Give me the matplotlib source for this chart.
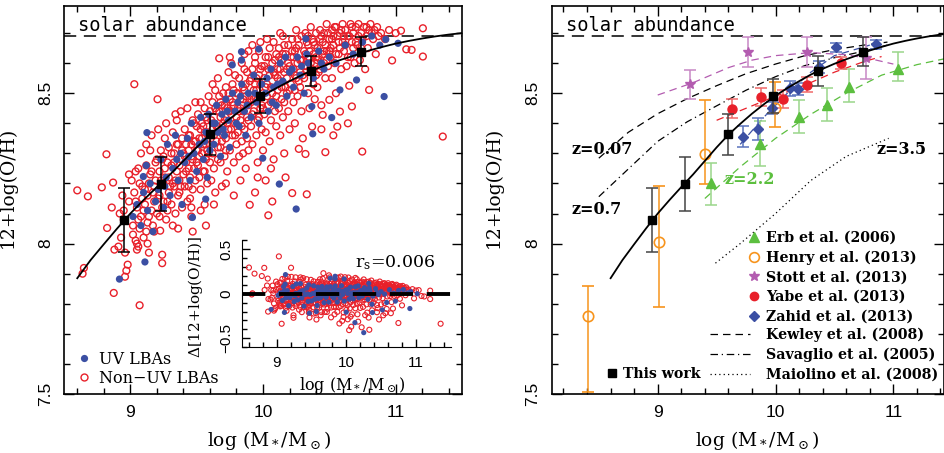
import numpy as np
import matplotlib.pyplot as plt
from matplotlib.ticker import MultipleLocator, FuncFormatter
from matplotlib.lines import Line2D

plt.rcParams['mathtext.fontset'] = 'dejavuserif'
plt.rcParams['font.family'] = 'DejaVu Serif'

RED = '#e8202a'
BLUE = '#3b4fa3'
GREEN = '#5cbf3f'
GREEN_L = '#9ad68a'
ORANGE = '#f7941d'
PURPLE = '#b35cb0'
PURPLE_L = '#c887c5'
RED_L = '#f06a6a'
BLUE_L = '#5a73bd'
SOLAR = 8.69

# ---- left panel: individual galaxies (Non-UV LBAs, red open circles)
red_pts = [
    (8.60, 8.177), (8.68, 8.157), (8.65, 7.919), (8.64, 7.90), (8.785, 8.187), (8.82, 8.297),
    (8.825, 8.052), (8.87, 8.203), (8.875, 7.836), (8.88, 7.98), (8.86, 8.12),
    (8.92, 8.10), (8.95, 8.11), (8.95, 8.08), (8.93, 8.02), (8.96, 7.97), (8.98, 7.93),
    (8.97, 7.91), (8.96, 7.89), (8.99, 8.23), (8.99, 8.14), (8.94, 8.16), (8.91, 7.99),
    (9.03, 8.53), (9.02, 8.06), (9.04, 8.01), (9.05, 8.00), (9.06, 7.99), (9.07, 7.795),
    (9.01, 8.21), (9.03, 8.17), (9.05, 8.12), (9.06, 8.25), (9.08, 8.09), (9.09, 8.19),
    (9.04, 8.24), (9.02, 8.03), (9.07, 8.05), (9.09, 8.15), (9.05, 7.98), (9.08, 8.30), (9.10, 8.02),
    (9.11, 8.13), (9.12, 8.26), (9.13, 8.07), (9.14, 8.20), (9.15, 8.31), (9.16, 8.11),
    (9.17, 8.17), (9.18, 8.04), (9.12, 8.33), (9.14, 8.09), (9.15, 8.23), (9.16, 8.36),
    (9.18, 8.14), (9.19, 8.27), (9.11, 8.18), (9.13, 8.00), (9.17, 8.06), (9.19, 8.21),
    (9.20, 8.10), (9.14, 7.97),
    (9.205, 8.48), (9.24, 7.963), (9.24, 7.935), (9.225, 8.043), (9.21, 8.15), (9.22, 8.24),
    (9.23, 8.31), (9.24, 8.12), (9.25, 8.20), (9.26, 8.35), (9.27, 8.08), (9.28, 8.27),
    (9.29, 8.17), (9.21, 8.38), (9.22, 8.09), (9.24, 8.28), (9.25, 8.14), (9.26, 8.22),
    (9.27, 8.40), (9.28, 8.11), (9.29, 8.32), (9.30, 8.19), (9.23, 8.21),
    (9.31, 8.26), (9.31, 8.13), (9.32, 8.37), (9.33, 8.19), (9.33, 8.30), (9.34, 8.10),
    (9.35, 8.24), (9.35, 8.41), (9.36, 8.16), (9.36, 8.33), (9.37, 8.21), (9.38, 8.28),
    (9.38, 8.44), (9.39, 8.12), (9.39, 8.35), (9.40, 8.23), (9.32, 8.06), (9.34, 8.43),
    (9.37, 8.17), (9.40, 8.30), (9.36, 8.05), (9.33, 8.27),
    (9.41, 8.19), (9.41, 8.38), (9.42, 8.27), (9.43, 8.14), (9.43, 8.45), (9.44, 8.31),
    (9.45, 8.22), (9.45, 8.36), (9.46, 8.09), (9.46, 8.29), (9.47, 8.41), (9.47, 8.18),
    (9.48, 8.25), (9.48, 8.34), (9.49, 8.47), (9.49, 8.21), (9.50, 8.31), (9.42, 8.33),
    (9.44, 8.25), (9.46, 8.12), (9.50, 8.39), (9.47, 8.04), (9.45, 8.15),
    (9.51, 8.26), (9.51, 8.43), (9.52, 8.35), (9.53, 8.18), (9.53, 8.47), (9.54, 8.30),
    (9.55, 8.39), (9.55, 8.24), (9.56, 8.45), (9.56, 8.13), (9.57, 8.33), (9.57, 8.28),
    (9.58, 8.41), (9.58, 8.20), (9.59, 8.36), (9.59, 8.49), (9.60, 8.27), (9.52, 8.22),
    (9.54, 8.40), (9.56, 8.37), (9.58, 8.31), (9.60, 8.44), (9.53, 8.11), (9.57, 8.06),
    (9.61, 8.36), (9.61, 8.21), (9.62, 8.47), (9.62, 8.30), (9.63, 8.40), (9.63, 8.25),
    (9.64, 8.51), (9.65, 8.34), (9.65, 8.44), (9.66, 8.28), (9.66, 8.38), (9.67, 8.616),
    (9.67, 8.49), (9.68, 8.32), (9.68, 8.42), (9.69, 8.19), (9.69, 8.46), (9.70, 8.36),
    (9.62, 8.53), (9.64, 8.17), (9.66, 8.55), (9.68, 8.27), (9.70, 8.50), (9.63, 8.13),
    (9.71, 8.41), (9.71, 8.29), (9.72, 8.52), (9.72, 8.35), (9.73, 8.45), (9.73, 8.24),
    (9.74, 8.57), (9.74, 8.38), (9.75, 8.48), (9.75, 8.31), (9.76, 8.43), (9.76, 8.60),
    (9.77, 8.36), (9.77, 8.53), (9.78, 8.27), (9.78, 8.46), (9.79, 8.40), (9.79, 8.56),
    (9.80, 8.33), (9.80, 8.50), (9.72, 8.20), (9.75, 8.62), (9.78, 8.16), (9.74, 8.44),
    (9.81, 8.45), (9.81, 8.37), (9.82, 8.55), (9.82, 8.29), (9.83, 8.48), (9.83, 8.41),
    (9.84, 8.60), (9.84, 8.34), (9.85, 8.52), (9.85, 8.44), (9.86, 8.63), (9.86, 8.38),
    (9.87, 8.49), (9.87, 8.25), (9.88, 8.57), (9.88, 8.42), (9.89, 8.46), (9.89, 8.31),
    (9.90, 8.54), (9.90, 8.129), (9.83, 8.21), (9.86, 8.58), (9.89, 8.64), (9.85, 8.30),
    (9.91, 8.47), (9.91, 8.39), (9.92, 8.58), (9.92, 8.33), (9.93, 8.51), (9.93, 8.44),
    (9.94, 8.17), (9.94, 8.60), (9.94, 8.62), (9.95, 8.36), (9.95, 8.55), (9.96, 8.48),
    (9.96, 8.27), (9.97, 8.64), (9.97, 8.42), (9.98, 8.53), (9.98, 8.45), (9.99, 8.59),
    (9.99, 8.38), (10.00, 8.50), (10.00, 8.31), (9.92, 8.66), (9.96, 8.22), (9.98, 8.67),
    (10.01, 8.55), (10.01, 8.43), (10.02, 8.62), (10.02, 8.37), (10.03, 8.49), (10.04, 8.094),
    (10.04, 8.58), (10.04, 8.46), (10.05, 8.65), (10.05, 8.34), (10.06, 8.52), (10.06, 8.41),
    (10.07, 8.14), (10.07, 8.60), (10.08, 8.47), (10.08, 8.28), (10.09, 8.56), (10.09, 8.44),
    (10.10, 8.63), (10.10, 8.39), (10.03, 8.68), (10.06, 8.25), (10.08, 8.67), (10.02, 8.21),
    (10.11, 8.51), (10.11, 8.58), (10.12, 8.45), (10.12, 8.65), (10.13, 8.36), (10.13, 8.54),
    (10.14, 8.61), (10.14, 8.48), (10.15, 8.69), (10.15, 8.42), (10.16, 8.57), (10.16, 8.30),
    (10.17, 8.22), (10.17, 8.63), (10.18, 8.50), (10.18, 8.55), (10.19, 8.66), (10.19, 8.44),
    (10.20, 8.59), (10.20, 8.38), (10.13, 8.70), (10.16, 8.47),
    (10.21, 8.62), (10.21, 8.53), (10.22, 8.168), (10.22, 8.68), (10.23, 8.47), (10.23, 8.58),
    (10.24, 8.64), (10.24, 8.40), (10.25, 8.55), (10.25, 8.71), (10.26, 8.60), (10.26, 8.49),
    (10.27, 8.315), (10.27, 8.66), (10.28, 8.52), (10.28, 8.57), (10.29, 8.69), (10.29, 8.44),
    (10.30, 8.61), (10.30, 8.35), (10.24, 8.51),
    (10.31, 8.64), (10.31, 8.55), (10.32, 8.298), (10.32, 8.70), (10.33, 8.164), (10.33, 8.59),
    (10.34, 8.50), (10.34, 8.66), (10.35, 8.62), (10.35, 8.45), (10.36, 8.72), (10.36, 8.57),
    (10.37, 8.389), (10.37, 8.68), (10.38, 8.53), (10.38, 8.63), (10.39, 8.60), (10.39, 8.48),
    (10.40, 8.70), (10.40, 8.56),
    (10.41, 8.65), (10.41, 8.52), (10.42, 8.62), (10.43, 8.71), (10.43, 8.58), (10.44, 8.46),
    (10.45, 8.428), (10.45, 8.67), (10.46, 8.60), (10.46, 8.70), (10.47, 8.304), (10.47, 8.55),
    (10.48, 8.64), (10.48, 8.73), (10.49, 8.59), (10.50, 8.68), (10.50, 8.478), (10.44, 8.38),
    (10.51, 8.62), (10.52, 8.71), (10.52, 8.55), (10.53, 8.66), (10.54, 8.60), (10.54, 8.72),
    (10.55, 8.50), (10.56, 8.69), (10.56, 8.389), (10.57, 8.63), (10.58, 8.439), (10.58, 8.70),
    (10.59, 8.58), (10.60, 8.67), (10.60, 8.73), (10.53, 8.36),
    (10.61, 8.64), (10.62, 8.71), (10.63, 8.59), (10.64, 8.69), (10.65, 8.525), (10.66, 8.73),
    (10.66, 8.62), (10.67, 8.456), (10.67, 8.67), (10.68, 8.70), (10.69, 8.60), (10.70, 8.72),
    (10.64, 8.40),
    (10.71, 8.66), (10.72, 8.73), (10.73, 8.61), (10.74, 8.70), (10.748, 8.306), (10.75, 8.68),
    (10.76, 8.72), (10.77, 8.58), (10.78, 8.69), (10.79, 8.65), (10.80, 8.511), (10.80, 8.71),
    (10.81, 8.73), (10.83, 8.68), (10.84, 8.71), (10.85, 8.63), (10.86, 8.72), (10.87, 8.69),
    (10.89, 8.70),
    (10.92, 8.68), (10.95, 8.71), (10.973, 8.609), (11.00, 8.70), (11.04, 8.708), (11.08, 8.646),
    (11.12, 8.644), (11.205, 8.716), (11.205, 8.622), (11.355, 8.356),
]

# the dense core of the Non-UV cloud
red_core = [
    (9.04, 8.14), (9.07, 8.20), (9.10, 8.11), (9.13, 8.16), (9.16, 8.24), (9.18, 8.19),
    (9.20, 8.28), (9.12, 8.04), (9.06, 8.08),
    (9.22, 8.16), (9.26, 8.25), (9.29, 8.22), (9.31, 8.30), (9.34, 8.21), (9.37, 8.26),
    (9.39, 8.31), (9.42, 8.24), (9.44, 8.36), (9.47, 8.28), (9.49, 8.34), (9.51, 8.31),
    (9.53, 8.38), (9.55, 8.33), (9.57, 8.42), (9.59, 8.30), (9.61, 8.41), (9.63, 8.36),
    (9.65, 8.39), (9.67, 8.44), (9.69, 8.34), (9.71, 8.46), (9.73, 8.40), (9.75, 8.44),
    (9.77, 8.47), (9.79, 8.36), (9.81, 8.50), (9.83, 8.45), (9.85, 8.48), (9.87, 8.53),
    (9.89, 8.41), (9.91, 8.55), (9.93, 8.48), (9.95, 8.51), (9.97, 8.56), (9.99, 8.46),
    (10.01, 8.59), (10.03, 8.53), (10.05, 8.56), (10.07, 8.50), (10.09, 8.61), (10.11, 8.55),
    (10.13, 8.58), (10.15, 8.63), (10.17, 8.52), (10.19, 8.60), (10.21, 8.57), (10.23, 8.62),
    (10.25, 8.65), (10.27, 8.54), (10.29, 8.61), (10.31, 8.59), (10.33, 8.67), (10.35, 8.64),
    (10.37, 8.57), (10.39, 8.66), (10.41, 8.61), (10.43, 8.68), (10.45, 8.63), (10.47, 8.66),
    (10.49, 8.70), (10.51, 8.65), (10.53, 8.69), (10.55, 8.63), (10.57, 8.67), (10.59, 8.71),
    (10.62, 8.66), (10.65, 8.69), (10.68, 8.65), (10.72, 8.69),
    (9.25, 8.29), (9.28, 8.14), (9.32, 8.20), (9.35, 8.33), (9.38, 8.19), (9.41, 8.29),
    (9.44, 8.19), (9.46, 8.33), (9.48, 8.40), (9.50, 8.27), (9.52, 8.29), (9.54, 8.35),
    (9.56, 8.24), (9.58, 8.37), (9.60, 8.33), (9.62, 8.38), (9.64, 8.45), (9.66, 8.32),
    (9.68, 8.47), (9.70, 8.40), (9.72, 8.31), (9.74, 8.50), (9.76, 8.38), (9.78, 8.51),
    (9.80, 8.42), (9.82, 8.44), (9.84, 8.39), (9.86, 8.51), (9.88, 8.35), (9.90, 8.48),
    (9.92, 8.43), (9.94, 8.53), (9.96, 8.41), (9.98, 8.58), (10.00, 8.45), (10.02, 8.52),
    (10.04, 8.62), (10.06, 8.47), (10.08, 8.57), (10.10, 8.49), (10.12, 8.62), (10.14, 8.52),
    (10.16, 8.66), (10.18, 8.58), (10.20, 8.51), (10.22, 8.64), (10.24, 8.56), (10.26, 8.68),
    (10.28, 8.61), (10.30, 8.56), (10.32, 8.63), (10.34, 8.69), (10.36, 8.60), (10.38, 8.67),
    (10.40, 8.62), (10.42, 8.57), (10.44, 8.69), (10.46, 8.64), (10.48, 8.61), (10.50, 8.64),
    (10.52, 8.68), (10.55, 8.72), (10.58, 8.65), (10.61, 8.69), (10.64, 8.62), (10.67, 8.72),
    (10.70, 8.67), (10.74, 8.65), (10.78, 8.72), (10.82, 8.70),
]

# UV LBAs, blue filled circles
blue_pts = [
    (8.918, 7.882), (9.11, 7.939), (9.125, 8.369), (9.098, 8.223), (9.468, 8.087), (9.568, 8.148),
    (9.998, 8.284), (10.123, 8.198), (10.25, 8.115), (10.375, 8.365), (10.368, 8.456),
    (10.518, 8.419), (10.58, 8.511), (10.705, 8.544), (10.913, 8.489), (10.925, 8.679),
    (11.018, 8.666), (10.323, 8.681), (9.968, 8.647), (9.838, 8.638), (9.838, 8.61), (9.768, 8.594),
    (9.02, 8.09), (9.05, 8.13), (9.08, 8.06), (9.10, 8.17), (9.13, 8.11), (9.15, 8.20),
    (9.17, 8.04), (9.19, 8.14), (9.12, 8.26),
    (9.21, 8.18), (9.23, 8.28), (9.25, 8.12), (9.27, 8.22), (9.28, 8.33), (9.30, 8.16),
    (9.32, 8.25), (9.34, 8.36), (9.36, 8.21), (9.38, 8.30), (9.39, 8.13),
    (9.41, 8.27), (9.43, 8.35), (9.45, 8.21), (9.46, 8.40), (9.48, 8.30), (9.50, 8.24),
    (9.52, 8.33), (9.53, 8.42), (9.55, 8.28), (9.57, 8.37), (9.58, 8.22), (9.60, 8.31),
    (9.62, 8.40), (9.63, 8.33), (9.65, 8.46), (9.66, 8.37), (9.68, 8.29), (9.69, 8.43),
    (9.71, 8.36), (9.72, 8.48), (9.74, 8.41), (9.75, 8.32), (9.77, 8.50), (9.79, 8.44),
    (9.81, 8.47), (9.82, 8.39), (9.84, 8.53), (9.86, 8.44), (9.87, 8.36), (9.89, 8.50),
    (9.91, 8.42), (9.93, 8.56), (9.95, 8.47), (9.97, 8.40), (9.99, 8.53),
    (10.02, 8.50), (10.04, 8.44), (10.06, 8.58), (10.08, 8.52), (10.10, 8.46), (10.13, 8.60),
    (10.15, 8.54), (10.18, 8.49), (10.20, 8.57),
    (10.23, 8.52), (10.26, 8.62), (10.28, 8.56), (10.31, 8.50), (10.34, 8.60), (10.38, 8.55),
    (10.42, 8.64), (10.46, 8.58), (10.50, 8.62),
    (10.55, 8.60), (10.62, 8.66), (10.68, 8.63), (10.75, 8.67), (10.82, 8.69), (10.88, 8.66),
    (9.44, 8.29), (9.56, 8.34), (9.64, 8.40), (9.73, 8.44), (9.80, 8.40), (9.88, 8.46),
    (9.94, 8.50), (10.03, 8.55), (10.11, 8.53), (10.22, 8.58), (10.33, 8.63), (10.44, 8.60),
    (9.35, 8.28), (9.26, 8.19), (9.59, 8.43), (9.70, 8.38), (9.83, 8.49), (10.07, 8.47),
    (10.17, 8.62), (10.29, 8.59),
]

# median bins (This work)
bin_x = [8.95, 9.23, 9.598, 9.977, 10.36, 10.74]
bin_y = [8.079, 8.198, 8.364, 8.491, 8.574, 8.638]
bin_err = [0.106, 0.09, 0.068, 0.057, 0.05, 0.049]

# best-fit mass-metallicity curve
fit_x = [8.6, 8.7, 8.8, 8.9, 9.0, 9.1, 9.2, 9.3, 9.4, 9.5, 9.6, 9.7, 9.8, 9.9, 10.0,
         10.1, 10.2, 10.3, 10.4, 10.5, 10.6, 10.7, 10.8, 10.9, 11.0, 11.1, 11.2, 11.3, 11.4, 11.5]
fit_y = [7.885, 7.945, 7.998, 8.05, 8.10, 8.145, 8.188, 8.23, 8.275, 8.32, 8.362, 8.398,
         8.432, 8.463, 8.492, 8.517, 8.54, 8.562, 8.581, 8.598, 8.613, 8.627, 8.642, 8.654,
         8.665, 8.674, 8.682, 8.689, 8.695, 8.70]

# ---- right panel: literature
erb_x = [9.454, 9.87, 10.198, 10.439, 10.623, 11.042]
erb_y = [8.201, 8.332, 8.42, 8.461, 8.522, 8.58]
erb_lo = [0.072, 0.073, 0.051, 0.052, 0.05, 0.041]
erb_hi = [0.066, 0.074, 0.058, 0.056, 0.058, 0.058]

henry_x = [8.405, 9.01, 9.405, 9.994]
henry_y = [7.758, 8.005, 8.298, 8.45]
henry_lo = [0.25, 0.215, 0.10, 0.061]
henry_hi = [0.10, 0.185, 0.18, 0.087]

stott_x = [9.272, 9.768, 10.269, 10.765]
stott_y = [8.531, 8.638, 8.638, 8.616]
stott_lo = [0.051, 0.05, 0.05, 0.07]
stott_hi = [0.046, 0.048, 0.05, 0.072]

yabe_x = [9.632, 9.878, 10.065, 10.27, 10.552]
yabe_y = [8.448, 8.488, 8.48, 8.528, 8.60]
yabe_err = [0.032, 0.03, 0.03, 0.025, 0.02]

zahid_x = [9.725, 9.85, 9.972, 10.12, 10.19, 10.368, 10.516, 10.85]
zahid_y = [8.356, 8.381, 8.45, 8.517, 8.513, 8.588, 8.653, 8.663]
zahid_err = [0.036, 0.035, 0.02, 0.025, 0.02, 0.02, 0.015, 0.015]

# relations
kewley_x = [8.5, 8.75, 9.0, 9.25, 9.5, 9.75, 10.0, 10.25, 10.5, 10.75, 10.95]
kewley_y = [8.284, 8.37, 8.432, 8.482, 8.525, 8.565, 8.597, 8.625, 8.645, 8.66, 8.67]
savaglio_x = [8.5, 8.75, 9.0, 9.25, 9.5, 9.75, 10.0, 10.25, 10.5, 10.75, 10.95]
savaglio_y = [8.156, 8.248, 8.34, 8.405, 8.458, 8.51, 8.555, 8.592, 8.618, 8.64, 8.66]
maiolino_x = [9.49, 9.7, 10.0, 10.3, 10.6, 10.96]
maiolino_y = [7.935, 8.0, 8.1, 8.21, 8.29, 8.35]
stott_fit_x = [9.0, 9.3, 9.6, 9.8, 10.0, 10.3, 10.6, 10.8, 11.0]
stott_fit_y = [8.494, 8.535, 8.585, 8.61, 8.625, 8.635, 8.628, 8.615, 8.597]
yabe_fit_x = [9.5, 9.75, 10.0, 10.25, 10.5, 10.75, 10.9]
yabe_fit_y = [8.41, 8.45, 8.49, 8.527, 8.57, 8.605, 8.622]
erb_fit_x = [9.4, 9.7, 10.0, 10.3, 10.6, 10.9, 11.2, 11.44]
erb_fit_y = [8.15, 8.255, 8.35, 8.43, 8.5, 8.56, 8.595, 8.615]
zahid_fit_x = [9.7, 9.9, 10.1, 10.3, 10.5, 10.8]
zahid_fit_y = [8.33, 8.42, 8.5, 8.57, 8.625, 8.66]

red_x, red_y = np.array(red_pts + red_core).T
blue_x, blue_y = np.array(blue_pts).T
red_res = red_y - np.interp(red_x, fit_x, fit_y)
blue_res = blue_y - np.interp(blue_x, fit_x, fit_y)

TICKFONT = 'Liberation Sans'
fmt = FuncFormatter(lambda v, p: '%g' % v)


def style_axes(ax):
    ax.xaxis.set_major_locator(MultipleLocator(1))
    ax.xaxis.set_minor_locator(MultipleLocator(0.2))
    ax.yaxis.set_major_locator(MultipleLocator(0.5))
    ax.yaxis.set_minor_locator(MultipleLocator(0.1))
    ax.xaxis.set_major_formatter(fmt)
    ax.yaxis.set_major_formatter(fmt)
    ax.tick_params(which='both', direction='in', top=True, right=True, width=1.0)
    ax.tick_params(which='major', length=7, pad=8)
    ax.tick_params(which='minor', length=4)
    for s in ax.spines.values():
        s.set_linewidth(1.2)
    for lab in ax.get_xticklabels():
        lab.set_fontfamily(TICKFONT)
        lab.set_fontsize(12.5)
    for lab in ax.get_yticklabels():
        lab.set_fontfamily(TICKFONT)
        lab.set_fontsize(12.5)
        lab.set_rotation(90)
        lab.set_va('center')
    ax.set_ylim(7.5, 8.79)
    ax.axhline(SOLAR, color='black', lw=1.1, dashes=(8, 5), zorder=1)
    ax.set_ylabel('12+log(O/H)', fontsize=13.5)
    ax.set_xlabel(r'log (M$_*$/M$_\odot$)', fontsize=13.5)


fig = plt.figure(figsize=(9.45, 4.53), dpi=100)
ax1 = fig.add_axes([64 / 945, 59 / 453, 398 / 945, 388 / 453])
ax2 = fig.add_axes([551.7 / 945, 59 / 453, 392.3 / 945, 388 / 453])

# ---------------- left panel
ax1.scatter(red_x, red_y, s=24, facecolors='none', edgecolors=RED, linewidths=1.0, zorder=2)
ax1.scatter(blue_x, blue_y, s=27, color=BLUE, edgecolors='none', zorder=3)
ax1.plot(fit_x, fit_y, color='black', lw=1.3, zorder=4)
ax1.errorbar(bin_x, bin_y, yerr=bin_err, fmt='s', color='black', ms=6, capsize=4.5,
             elinewidth=1.1, capthick=1.1, zorder=5)
ax1.set_xlim(8.5, 11.5)
style_axes(ax1)
ax1.text(8.605, 8.708, 'solar abundance', family='DejaVu Sans Mono', fontsize=13.5, va='baseline')
ax1.yaxis.set_label_coords(-0.118, 0.532)
ax1.xaxis.set_label_coords(0.515, -0.09)

h_uv = Line2D([], [], ls='none', marker='o', ms=5.2, color=BLUE, mec='none')
h_nuv = Line2D([], [], ls='none', marker='o', ms=5, mfc='none', mec=RED, mew=1.0)
ax1.legend([h_uv, h_nuv], ['UV LBAs', 'Non\u2212UV LBAs'], loc='center left',
           bbox_to_anchor=(0.032, 0.065), frameon=False, fontsize=11.5, handlelength=0.9,
           handletextpad=0.5, labelspacing=0.12, borderpad=0, borderaxespad=0)

# inset
axi = fig.add_axes([242 / 945, (453 - 347.3) / 453, 208.7 / 945, 107.3 / 453])
axi.set_facecolor('white')
axi.scatter(red_x, red_res, s=13, facecolors='none', edgecolors=RED, linewidths=0.8, zorder=2)
axi.scatter(blue_x, blue_res, s=14, color=BLUE, edgecolors='none', zorder=3)
axi.axhline(0, color='black', lw=2.8, dashes=(6, 3.5), zorder=4)
axi.set_xlim(8.5, 11.5)
axi.set_ylim(-0.6, 0.6)
axi.xaxis.set_major_locator(MultipleLocator(1))
axi.xaxis.set_minor_locator(MultipleLocator(0.2))
axi.yaxis.set_major_locator(MultipleLocator(0.5))
axi.yaxis.set_minor_locator(MultipleLocator(0.1))
axi.xaxis.set_major_formatter(fmt)
axi.yaxis.set_major_formatter(FuncFormatter(lambda v, p: ('%g' % v).replace('-', '\u2212')))
axi.spines['top'].set_visible(False)
axi.spines['right'].set_visible(False)
axi.tick_params(which='both', direction='in', top=False, right=False, width=1.0)
axi.tick_params(which='major', length=6, pad=6)
axi.tick_params(which='minor', length=3.5)
for lab in axi.get_xticklabels() + axi.get_yticklabels():
    lab.set_fontfamily(TICKFONT)
    lab.set_fontsize(11)
for lab in axi.get_yticklabels():
    lab.set_rotation(90)
    lab.set_va('center')
axi.set_ylabel(r'$\Delta$[12+log(O/H)]', fontsize=11)
axi.set_xlabel(r'log (M$_*$/M$_\odot$)', fontsize=11.5)
axi.yaxis.set_label_coords(-0.175, 0.47)
axi.xaxis.set_label_coords(0.526, -0.26)
axi.text(0.54, 0.79, r'r$_{\rm s}$=0.006', transform=axi.transAxes, fontsize=12.5, va='center')

# ---------------- right panel
ax2.plot(kewley_x, kewley_y, color='black', lw=0.9, dashes=(6, 4), zorder=2)
ax2.plot(savaglio_x, savaglio_y, color='black', lw=0.9, dashes=(6, 3, 1, 3), zorder=2)
ax2.plot(maiolino_x, maiolino_y, color='black', lw=0.9, dashes=(1, 2.5), zorder=2)
ax2.plot(stott_fit_x, stott_fit_y, color=PURPLE, lw=0.9, dashes=(6, 4), zorder=2)
ax2.plot(yabe_fit_x, yabe_fit_y, color=RED, lw=0.9, dashes=(6, 4), zorder=2)
ax2.plot(erb_fit_x, erb_fit_y, color=GREEN, lw=0.9, dashes=(6, 4), zorder=2)
ax2.plot(zahid_fit_x, zahid_fit_y, color=BLUE, lw=0.9, dashes=(6, 4), zorder=2)

ax2.plot(fit_x, fit_y, color='black', lw=1.3, zorder=4)
ax2.errorbar(bin_x, bin_y, yerr=bin_err, fmt='s', color='black', ecolor='#444444', ms=6,
             capsize=4.5, elinewidth=1.1, capthick=1.1, zorder=5)
ax2.errorbar(erb_x, erb_y, yerr=[erb_lo, erb_hi], fmt='^', color=GREEN, ecolor=GREEN_L, ms=7,
             capsize=4.5, elinewidth=1.1, capthick=1.1, zorder=3)
ax2.errorbar(henry_x, henry_y, yerr=[henry_lo, henry_hi], fmt='o', mfc='none', mec=ORANGE,
             mew=1.2, ecolor=ORANGE, ms=7.5, capsize=4.5, elinewidth=1.1, capthick=1.1, zorder=3)
ax2.errorbar(stott_x, stott_y, yerr=[stott_lo, stott_hi], fmt='*', color=PURPLE, ecolor=PURPLE_L,
             ms=7.5, capsize=4, elinewidth=1.1, capthick=1.1, zorder=3)
ax2.errorbar(yabe_x, yabe_y, yerr=yabe_err, fmt='o', color=RED, ecolor=RED_L, ms=6.5,
             capsize=4.5, elinewidth=1.1, capthick=1.1, zorder=3)
ax2.errorbar(zahid_x, zahid_y, yerr=zahid_err, fmt='D', color=BLUE, ecolor=BLUE_L, ms=5,
             capsize=4, elinewidth=1.1, capthick=1.1, zorder=3)

ax2.set_xlim(8.1, 11.43)
style_axes(ax2)
ax2.text(8.224, 8.708, 'solar abundance', family='DejaVu Sans Mono', fontsize=13.5, va='baseline')
ax2.yaxis.set_label_coords(-0.124, 0.532)
ax2.xaxis.set_label_coords(0.5226, -0.09)

zfont = dict(fontsize=11.5, fontweight='bold', va='center')
ax2.text(8.27, 8.314, 'z=0.07', **zfont)
ax2.text(8.27, 8.115, 'z=0.7', **zfont)
ax2.text(10.86, 8.314, 'z=3.5', **zfont)
ax2.text(9.57, 8.214, 'z=2.2', color=GREEN, **zfont)

LFS = 10.2
lfont = dict(size=LFS, weight='bold')
mk = [Line2D([], [], ls='none', marker='^', ms=7, color=GREEN),
      Line2D([], [], ls='none', marker='o', ms=7, mfc='none', mec=ORANGE, mew=1.2),
      Line2D([], [], ls='none', marker='*', ms=7.5, color=PURPLE),
      Line2D([], [], ls='none', marker='o', ms=6, color=RED),
      Line2D([], [], ls='none', marker='D', ms=5, color=BLUE)]
mk_lab = ['Erb et al. (2006)', 'Henry et al. (2013)', 'Stott et al. (2013)',
          'Yabe et al. (2013)', 'Zahid et al. (2013)']
ln = [Line2D([], [], color='black', lw=0.9, dashes=(6, 4)),
      Line2D([], [], color='black', lw=0.9, dashes=(6, 3, 1, 3)),
      Line2D([], [], color='black', lw=0.9, dashes=(1, 2.5))]
ln_lab = ['Kewley et al. (2008)', 'Savaglio et al. (2005)', 'Maiolino et al. (2008)']

fs_px = LFS / 72 * 100
x_mk = (754 - 551.7) / 392.3
x_ln = (710 - 551.7) / 392.3
LSP = 0.40
leg1 = ax2.legend(mk, mk_lab, loc='center left',
                  bbox_to_anchor=(x_mk - 0.45 * fs_px / 392.3, (394 - 277.2) / 388),
                  frameon=False, prop=lfont, handlelength=0.9, handletextpad=12 / fs_px - 0.45,
                  labelspacing=LSP, borderpad=0, borderaxespad=0)
leg2 = ax2.legend(ln, ln_lab, loc='center left', bbox_to_anchor=(x_ln, (394 - 355) / 388),
                  frameon=False, prop=lfont, handlelength=40 / fs_px, handletextpad=16 / fs_px,
                  labelspacing=LSP, borderpad=0, borderaxespad=0)
ax2.add_artist(leg1)
ax2.add_artist(leg2)
h_tw = Line2D([], [], ls='none', marker='s', ms=6, color='black')
ax2.legend([h_tw], ['This work'], loc='center left',
           bbox_to_anchor=((611.7 - 551.7) / 392.3 - 0.45 * fs_px / 392.3, (394 - 374.3) / 388),
           frameon=False, prop=lfont, handlelength=0.9, handletextpad=11 / fs_px - 0.45,
           borderpad=0, borderaxespad=0)

fig.savefig('out.png', dpi=100)
